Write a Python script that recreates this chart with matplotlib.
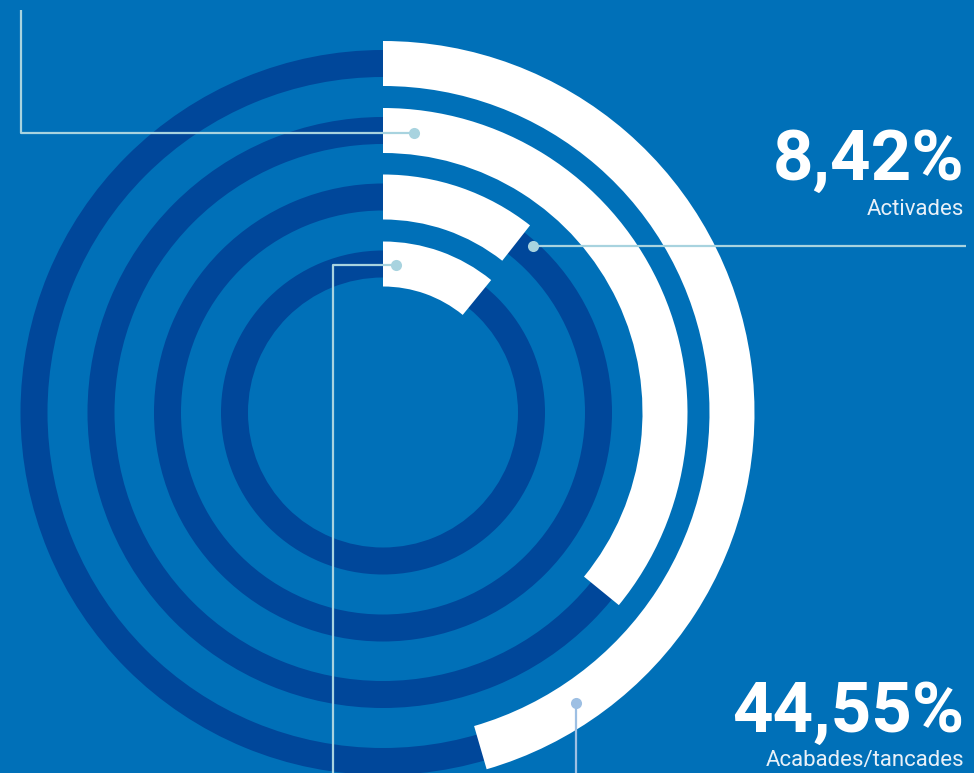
import numpy as np
import matplotlib
matplotlib.use("Agg")
import matplotlib.pyplot as plt

# ---- data ----
ring_names = ["Acabades/tancades", "Ring 2", "Activades", "Ring 4"]
ring_values = [45.5, 35.9, 10.6, 10.9]          # percent of full circle (as drawn)
label_values = ["44,55%", "8,42%"]
label_texts = ["Acabades/tancades", "Activades"]

# ---- styling ----
BG = "#0070b8"
DARK = "#00479a"
WHITE = "#ffffff"
LEAD = "#a8d3df"
LEAD2 = "#9dbfe3"

W, H = 974, 773
fig = plt.figure(figsize=(W / 100, H / 100), dpi=100, facecolor=BG)

cx, cy = 383, 412.5
R = 400
ax = fig.add_axes([(cx - R) / W, (H - cy - R) / H, 2 * R / W, 2 * R / H],
                  projection="polar")
ax.set_facecolor("none")
ax.set_theta_zero_location("N")
ax.set_theta_direction(-1)
ax.set_ylim(0, R)
ax.axis("off")

centers = [349, 282, 215.5, 148.5]
for rc, v in zip(centers, ring_values):
    ax.bar(np.pi, 13.5 * 2, width=2 * np.pi, bottom=rc - 13.5, color=DARK,
           linewidth=0, align="center")
    th = v / 100 * 2 * np.pi
    ax.bar(th / 2, 45, width=th, bottom=rc - 22.5, color=WHITE,
           linewidth=0, align="center")

# overlay for leader lines and labels (pixel coordinates)
ov = fig.add_axes([0, 0, 1, 1])
ov.set_xlim(0, W)
ov.set_ylim(H, 0)
ov.axis("off")
ov.set_facecolor("none")

lw = 1.6
ms = 8
# ring 2 leader (top-left)
ov.plot([414, 21, 21], [133, 133, 10], color=LEAD, lw=lw, solid_capstyle="butt")
ov.plot([414], [133], "o", color=LEAD, ms=ms, mec="none")
# ring 4 leader (down)
ov.plot([396, 333, 333], [265, 265, 780], color=LEAD, lw=lw, solid_capstyle="butt")
ov.plot([396], [265], "o", color=LEAD, ms=ms, mec="none")
# ring 3 leader (right)
ov.plot([533, 966], [246, 246], color=LEAD, lw=lw, solid_capstyle="butt")
ov.plot([533], [246], "o", color=LEAD, ms=ms, mec="none")
# ring 1 leader (down)
ov.plot([576, 576], [703, 780], color=LEAD2, lw=lw, solid_capstyle="butt")
ov.plot([576], [703], "o", color=LEAD2, ms=ms, mec="none")

big = dict(color="white", fontsize=51, fontweight="bold", family="Roboto",
           ha="right", va="baseline")
small = dict(color="#e8f0f8", fontsize=16, family="Roboto",
             ha="right", va="baseline")
ov.text(964, 180, label_values[1], **big)
ov.text(964, 215, label_texts[1], **small)
ov.text(964, 732, label_values[0], **big)
ov.text(964, 766, label_texts[0], **small)

fig.savefig("out.png", dpi=100, facecolor=BG)
